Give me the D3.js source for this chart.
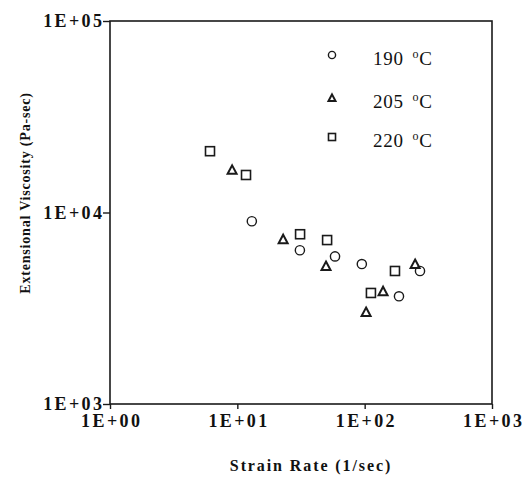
<!DOCTYPE html>
<html>
<head>
<meta charset="utf-8">
<script src="https://cdn.jsdelivr.net/npm/d3@7"></script>
<style>
  html, body { margin: 0; padding: 0; background: #fff; }
  svg { display: block; }
  text { font-family: "Liberation Serif", "DejaVu Serif", serif; fill: #111; }
</style>
</head>
<body>
<svg id="chart" width="524" height="490"></svg>
<script>
// Extensional viscosity vs. strain rate at three melt temperatures
const series = ["190", "205", "220"];
const seriesSymbols = ["circle", "triangle", "square"];

const rate190 = [13.0, 31.0, 58.5, 95, 186, 272];
const visc190 = [9000, 6350, 5900, 5380, 3650, 4950];

const rate205 = [9.1, 22.9, 49.7, 102.6, 139.5, 249];
const visc205 = [16700, 7250, 5250, 3020, 3880, 5380];

const rate220 = [6.1, 11.7, 31.1, 50.7, 112, 173];
const visc220 = [20900, 15700, 7700, 7180, 3800, 4950];

const xTicks = [1, 10, 100, 1000];
const xTickLabels = ["1E+00", "1E+01", "1E+02", "1E+03"];
const yTicks = [1000, 10000, 100000];
const yTickLabels = ["1E+03", "1E+04", "1E+05"];

const svg = d3.select("#chart");
const plotL = 110, plotR = 492, plotT = 21, plotB = 404;

const x = d3.scaleLog().domain([1, 1000]).range([plotL, plotR]);
const y = d3.scaleLog().domain([1000, 100000]).range([plotB, plotT]);

const ink = "#1a1a1a";

// plot frame
svg.append("rect")
  .attr("x", plotL).attr("y", plotT)
  .attr("width", plotR - plotL).attr("height", plotB - plotT)
  .attr("fill", "none").attr("stroke", ink).attr("stroke-width", 1.6);

const tickFont = { size: 18, spacing: 2.4 };

// x axis (decade ticks, labels below)
const xAxis = d3.axisBottom(x)
  .tickValues(xTicks)
  .tickFormat((d, i) => xTickLabels[i])
  .tickSize(5).tickSizeOuter(0).tickPadding(5);
const gx = svg.append("g").attr("transform", `translate(0,${plotB})`).call(xAxis);
gx.select(".domain").remove();
gx.selectAll("line").attr("stroke", ink).attr("stroke-width", 1.4);
gx.selectAll("text")
  .attr("font-size", tickFont.size).attr("font-weight", "bold")
  .attr("letter-spacing", tickFont.spacing).attr("fill", ink)
  .attr("dx", tickFont.spacing / 2)
  .attr("font-family", "Liberation Serif");

// y axis (decade ticks, labels left)
const yAxis = d3.axisLeft(y)
  .tickValues(yTicks)
  .tickFormat((d, i) => yTickLabels[i])
  .tickSize(7).tickSizeOuter(0).tickPadding(1);
const gy = svg.append("g").attr("transform", `translate(${plotL},0)`).call(yAxis);
gy.select(".domain").remove();
gy.selectAll("line").attr("stroke", ink).attr("stroke-width", 1.4);
gy.selectAll("text")
  .attr("font-size", tickFont.size).attr("font-weight", "bold")
  .attr("letter-spacing", tickFont.spacing).attr("fill", ink)
  .attr("dx", tickFont.spacing)
  .attr("font-family", "Liberation Serif");

// axis titles
svg.append("text")
  .attr("x", 311).attr("y", 471)
  .attr("text-anchor", "middle")
  .attr("font-size", 16).attr("font-weight", "bold")
  .attr("letter-spacing", 1.9)
  .text("Strain Rate (1/sec)");

svg.append("text")
  .attr("transform", "translate(30,193) rotate(-90)")
  .attr("text-anchor", "middle")
  .attr("font-size", 14).attr("font-weight", "bold")
  .attr("letter-spacing", 0.8)
  .text("Extensional Viscosity (Pa-sec)");

// marker drawing
function drawMarker(g, kind, cx, cy, s = 1) {
  if (kind === "circle") {
    g.append("circle").attr("cx", cx).attr("cy", cy).attr("r", 4.6 * s)
      .attr("fill", "none").attr("stroke", ink).attr("stroke-width", 1.4);
  } else if (kind === "square") {
    const a = 9 * s;
    g.append("rect").attr("x", cx - a / 2).attr("y", cy - a / 2)
      .attr("width", a).attr("height", a)
      .attr("fill", "none").attr("stroke", ink).attr("stroke-width", 1.6);
  } else {
    const h = 8 * s, w = 9 * s;
    g.append("path")
      .attr("d", `M${cx},${cy - h / 2 - 0.5}L${cx + w / 2},${cy + h / 2}L${cx - w / 2},${cy + h / 2}Z`)
      .attr("fill", "none").attr("stroke", ink).attr("stroke-width", 2)
      .attr("stroke-linejoin", "miter");
  }
}

const data = [
  { name: series[0], sym: seriesSymbols[0], xs: rate190, ys: visc190 },
  { name: series[1], sym: seriesSymbols[1], xs: rate205, ys: visc205 },
  { name: series[2], sym: seriesSymbols[2], xs: rate220, ys: visc220 }
];

const marks = svg.append("g");
data.forEach(s => {
  s.xs.forEach((v, i) => drawMarker(marks, s.sym, x(v), y(s.ys[i])));
});

// legend
const legend = svg.append("g");
const legendRows = [55, 98, 137];
data.forEach((s, i) => {
  const ly = legendRows[i];
  drawMarker(legend, s.sym, 332, ly, 0.78);
  const t = legend.append("text")
    .attr("x", 373).attr("y", ly + 10)
    .attr("font-size", 19).attr("letter-spacing", 0.8);
  t.append("tspan").text(s.name + " ");
  t.append("tspan").attr("dx", 3).attr("dy", -7).attr("font-size", 12).text("o");
  t.append("tspan").attr("dy", 7).text("C");
});
</script>
</body>
</html>
